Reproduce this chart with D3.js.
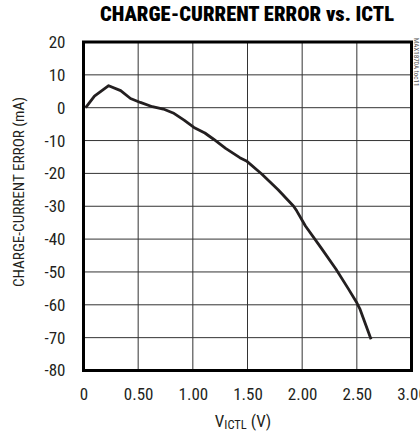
<!DOCTYPE html>
<html><head><meta charset="utf-8">
<script src="https://cdn.jsdelivr.net/npm/d3@7"></script>
<style>body{margin:0;background:#fff}svg{display:block}</style>
</head><body>
<script>
const vIctl = [0.02, 0.10, 0.23, 0.34, 0.43, 0.52, 0.63, 0.73, 0.82, 0.92, 1.01, 1.11, 1.19, 1.30, 1.43, 1.49, 1.63, 1.78, 1.92, 1.95, 2.03, 2.17, 2.31, 2.42, 2.50, 2.53, 2.63];
const errMa = [0.0, 3.5, 6.7, 5.2, 2.8, 1.6, 0.3, -0.4, -1.6, -3.8, -6.0, -7.7, -9.6, -12.4, -15.2, -16.2, -20.2, -25.0, -29.9, -31.4, -36.0, -42.5, -49.2, -55.0, -59.4, -61.4, -70.5];
const xTicks = [0, 0.5, 1.0, 1.5, 2.0, 2.5, 3.0];
const xTickLabels = ["0", "0.50", "1.00", "1.50", "2.00", "2.50", "3.00"];
const yTicks = [20, 10, 0, -10, -20, -30, -40, -50, -60, -70, -80];

const W = 420, H = 433;
const m = {l: 83.5, r: 411.5, t: 42, b: 370.5};
const font = "'Liberation Sans Narrow', 'Roboto Condensed', 'Liberation Sans', Arial, sans-serif";

const svg = d3.select("body").append("svg").attr("width", W).attr("height", H);
const x = d3.scaleLinear().domain([0, 3]).range([m.l, m.r]);
const y = d3.scaleLinear().domain([-80, 20]).range([m.b, m.t]);

// grid
svg.append("g").selectAll("line").data(xTicks.slice(1, -1)).join("line")
  .attr("x1", d => x(d)).attr("x2", d => x(d)).attr("y1", m.t).attr("y2", m.b)
  .attr("stroke", "#333").attr("stroke-width", 1);
svg.append("g").selectAll("line").data(yTicks.slice(1, -1)).join("line")
  .attr("y1", d => y(d)).attr("y2", d => y(d)).attr("x1", m.l).attr("x2", m.r)
  .attr("stroke", "#333").attr("stroke-width", 1);

// curve
svg.append("path").datum(vIctl.map((v, i) => [v, errMa[i]]))
  .attr("d", d3.line().x(d => x(d[0])).y(d => y(d[1])))
  .attr("fill", "none").attr("stroke", "#231f20").attr("stroke-width", 2.8)
  .attr("stroke-linejoin", "round");

// border
svg.append("rect").attr("x", m.l).attr("y", m.t).attr("width", m.r - m.l).attr("height", m.b - m.t)
  .attr("fill", "none").attr("stroke", "#000").attr("stroke-width", 3);

// axes using d3 axis generators (labels only)
const yAxis = d3.axisLeft(y).tickValues(yTicks).tickSize(0).tickPadding(18).tickFormat(d => d);
const gy = svg.append("g").attr("transform", `translate(${m.l},0)`).call(yAxis);
gy.select(".domain").remove();
gy.selectAll("text").attr("font-family", font).attr("font-size", 17).attr("fill", "#231f20");

const xAxis = d3.axisBottom(x).tickValues(xTicks).tickSize(0).tickPadding(17).tickFormat((d, i) => xTickLabels[i]);
const gx = svg.append("g").attr("transform", `translate(0,${m.b})`).call(xAxis);
gx.select(".domain").remove();
gx.selectAll("text").attr("font-family", font).attr("font-size", 17).attr("fill", "#231f20");

// title
svg.append("text").attr("x", 247).attr("y", 21).attr("text-anchor", "middle")
  .attr("font-family", font).attr("font-weight", 900).attr("font-size", 20)
  .attr("textLength", 294).attr("lengthAdjust", "spacingAndGlyphs")
  .attr("fill", "#000").text("CHARGE-CURRENT ERROR vs. ICTL");

// y title
svg.append("text").attr("transform", "translate(24,192) rotate(-90)").attr("text-anchor", "middle")
  .attr("font-family", font).attr("font-size", 15).attr("fill", "#231f20")
  .attr("textLength", 190).attr("lengthAdjust", "spacingAndGlyphs")
  .text("CHARGE-CURRENT ERROR (mA)");

// x title
const xt = svg.append("text").attr("x", 243).attr("y", 427).attr("text-anchor", "middle")
  .attr("font-family", font).attr("font-size", 17).attr("fill", "#231f20");
xt.append("tspan").text("V");
xt.append("tspan").attr("font-size", 12.5).attr("dy", 2).text("ICTL");
xt.append("tspan").attr("dy", -2).text(" (V)");

// side code
svg.append("text").attr("transform", "translate(414,38) rotate(90)")
  .attr("font-family", font).attr("font-size", 7).attr("fill", "#555")
  .text("MAX1870A toc11");
</script>
</body></html>
